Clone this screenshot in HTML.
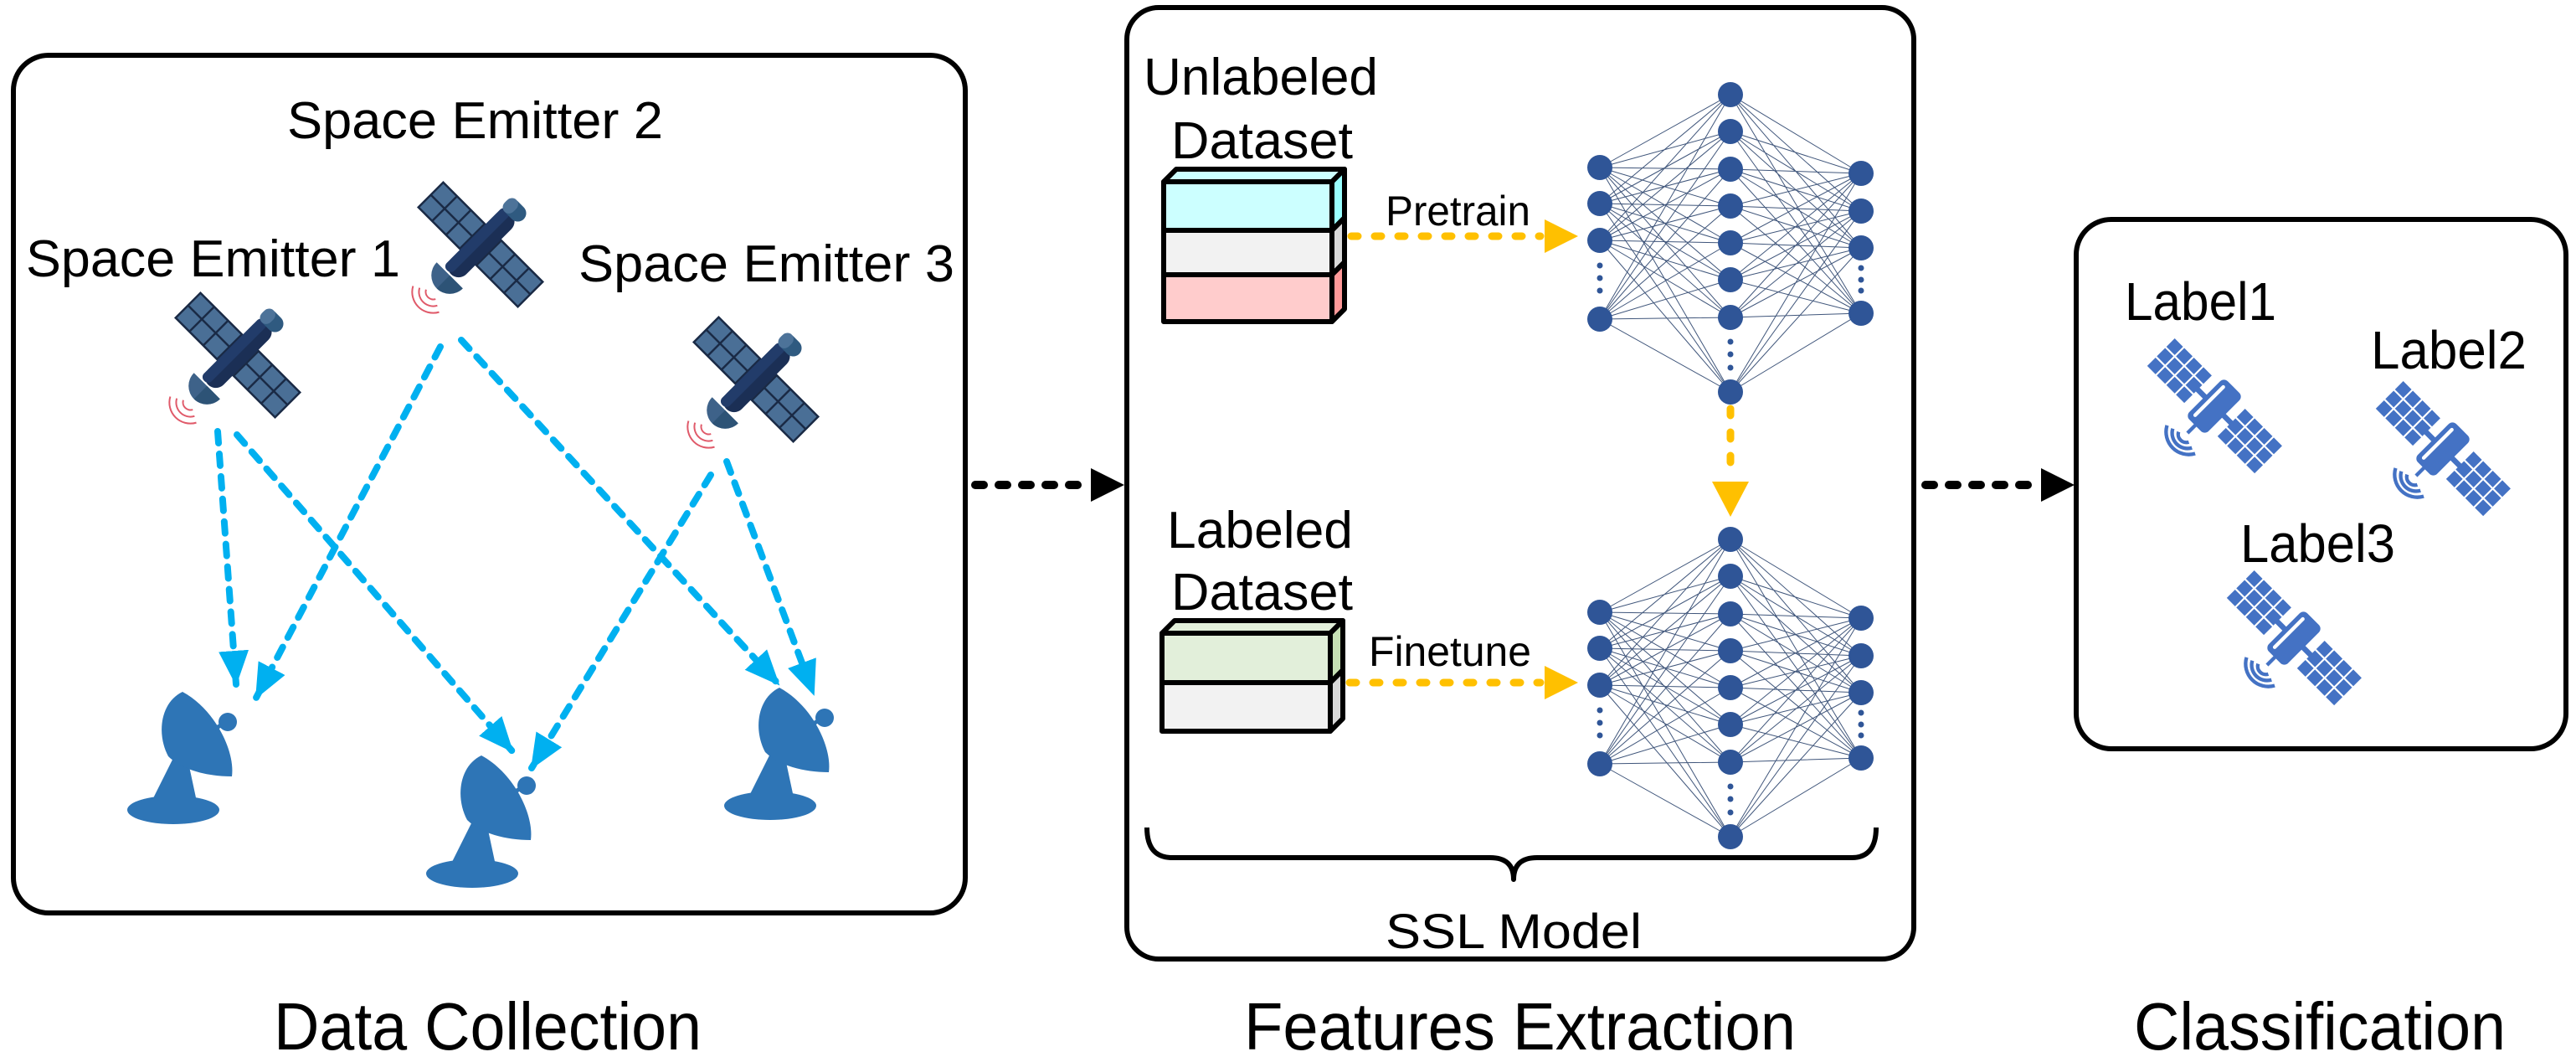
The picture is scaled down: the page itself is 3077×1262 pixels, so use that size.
<!DOCTYPE html>
<html><head><meta charset="utf-8"><style>
html,body{margin:0;padding:0;background:#fff}
svg{display:block}
text{font-family:"Liberation Sans",Arial,sans-serif;fill:#000}
</style></head><body>
<svg width="3077" height="1262" viewBox="0 0 3077 1262" xmlns="http://www.w3.org/2000/svg">
<defs>
<marker id="bh" markerUnits="userSpaceOnUse" markerWidth="46" markerHeight="46" refX="40" refY="18" orient="auto"><path d="M0,0 L42,18 L0,36 Z" fill="#00b0f0"/></marker>
<g id="dsat">
  <g fill="#4a6f96" stroke="#1a2a45" stroke-width="2.5">
    <rect x="-84" y="-21" width="70" height="42"/>
    <rect x="14" y="-21" width="70" height="42"/>
  </g>
  <g stroke="#1a2a45" stroke-width="2.5">
    <line x1="-60.7" y1="-21" x2="-60.7" y2="21"/><line x1="-37.3" y1="-21" x2="-37.3" y2="21"/><line x1="-84" y1="0" x2="-14" y2="0"/>
    <line x1="37.3" y1="-21" x2="37.3" y2="21"/><line x1="60.7" y1="-21" x2="60.7" y2="21"/><line x1="14" y1="0" x2="84" y2="0"/>
  </g>
  <rect x="-13" y="-52" width="26" height="102" rx="13" fill="#1b2f55"/>
  <rect x="-13" y="-52" width="13" height="102" rx="6" fill="#223c6a"/>
  <rect x="-15" y="-68" width="30" height="20" rx="10" fill="#2f5a80"/>
  <rect x="-15" y="-68" width="15" height="20" rx="8" fill="#4d7399"/>
  <path d="M-22,52 A22,22 0 0 0 22,52 Z" fill="#3e6289"/>
  <path d="M0,52 L22,52 A22,22 0 0 1 0,74 Z" fill="#2d5376"/>
  <g fill="none" stroke="#e05a6a" stroke-width="2">
    <path d="M-8,84 A9,9 0 0 0 8,84"/><path d="M-15,88 A17,17 0 0 0 15,88"/><path d="M-22,92 A25,25 0 0 0 22,92"/>
  </g>
</g>
<g id="bsq"><rect width="13" height="13" fill="#4472c4"/></g>
<g id="bsat" fill="#4472c4">
  <g>
    <use href="#bsq" x="-84" y="-22"/><use href="#bsq" x="-69" y="-22"/><use href="#bsq" x="-54" y="-22"/><use href="#bsq" x="-39" y="-22"/>
    <use href="#bsq" x="-84" y="-7"/><use href="#bsq" x="-69" y="-7"/><use href="#bsq" x="-54" y="-7"/><use href="#bsq" x="-39" y="-7"/>
    <use href="#bsq" x="-84" y="8"/><use href="#bsq" x="-69" y="8"/><use href="#bsq" x="-54" y="8"/><use href="#bsq" x="-39" y="8"/>
    <use href="#bsq" x="26" y="-22"/><use href="#bsq" x="41" y="-22"/><use href="#bsq" x="56" y="-22"/><use href="#bsq" x="71" y="-22"/>
    <use href="#bsq" x="26" y="-7"/><use href="#bsq" x="41" y="-7"/><use href="#bsq" x="56" y="-7"/><use href="#bsq" x="71" y="-7"/>
    <use href="#bsq" x="26" y="8"/><use href="#bsq" x="41" y="8"/><use href="#bsq" x="56" y="8"/><use href="#bsq" x="71" y="8"/>
  </g>
  <rect x="-27" y="-3" width="54" height="6"/>
  <rect x="-15" y="-30" width="30" height="60" rx="6"/>
  <rect x="-10" y="-24" width="4" height="48" rx="2" fill="#fff"/>
  <rect x="-2" y="28" width="4" height="14"/>
  <g fill="none" stroke="#4472c4" stroke-width="4">
    <path d="M-8,48 A9,9 0 0 0 8,48"/><path d="M-15,50 A17,17 0 0 0 15,50"/><path d="M-22,52 A25,25 0 0 0 22,52"/>
  </g>
</g>
<g id="dish" fill="#2e75b6">
  <ellipse cx="0" cy="0" rx="55" ry="17"/>
  <path d="M-26,-10 L28,-10 L16,-66 L2,-66 Z"/>
  <path d="M11,-141 C-16,-128 -20,-90 -6,-64 C10,-48 40,-40 70,-40 C74,-70 50,-120 11,-141 Z"/>
  <line x1="48" y1="-96" x2="62" y2="-104" stroke="#2e75b6" stroke-width="5"/>
  <circle cx="65" cy="-105" r="11"/>
</g>
</defs>

<rect x="16" y="66" width="1137" height="1024" rx="42" fill="none" stroke="#000" stroke-width="6"/>
<rect x="1346" y="9" width="940" height="1136" rx="38" fill="none" stroke="#000" stroke-width="6"/>
<rect x="2480" y="262" width="585" height="632" rx="42" fill="none" stroke="#000" stroke-width="6"/>

<line x1="1165" y1="579" x2="1300" y2="579" stroke="#000" stroke-width="10" stroke-linecap="round" stroke-dasharray="10 18"/>
<path d="M1303,559 L1343,579 L1303,599 Z" fill="#000"/>
<line x1="2300" y1="579" x2="2436" y2="579" stroke="#000" stroke-width="10" stroke-linecap="round" stroke-dasharray="10 18"/>
<path d="M2438,559 L2478,579 L2438,599 Z" fill="#000"/>

<text x="343" y="165" font-size="62" textLength="449" lengthAdjust="spacingAndGlyphs">Space Emitter 2</text>
<text x="31" y="330" font-size="62" textLength="447" lengthAdjust="spacingAndGlyphs">Space Emitter 1</text>
<text x="691" y="336" font-size="62" textLength="449" lengthAdjust="spacingAndGlyphs">Space Emitter 3</text>

<use href="#dsat" transform="translate(284,424) rotate(45)"/>
<use href="#dsat" transform="translate(574,292) rotate(45)"/>
<use href="#dsat" transform="translate(903,453) rotate(45)"/>

<g stroke="#00b0f0" stroke-width="8" stroke-linecap="round" stroke-dasharray="14 13" fill="none">
  <line x1="260" y1="515" x2="282" y2="817" marker-end="url(#bh)"/>
  <line x1="283" y1="519" x2="612" y2="897" marker-end="url(#bh)"/>
  <line x1="526" y1="414" x2="306" y2="833" marker-end="url(#bh)"/>
  <line x1="551" y1="406" x2="930" y2="817" marker-end="url(#bh)"/>
  <line x1="849" y1="567" x2="635" y2="917" marker-end="url(#bh)"/>
  <line x1="868" y1="551" x2="972" y2="829" marker-end="url(#bh)"/>
</g>

<use href="#dish" transform="translate(207,967)"/>
<use href="#dish" transform="translate(564,1043)"/>
<use href="#dish" transform="translate(920,962)"/>

<text x="1366" y="113" font-size="62" textLength="280" lengthAdjust="spacingAndGlyphs">Unlabeled</text>
<text x="1399" y="189" font-size="62" textLength="217" lengthAdjust="spacingAndGlyphs">Dataset</text>
<text x="1394" y="654" font-size="62" textLength="222" lengthAdjust="spacingAndGlyphs">Labeled</text>
<text x="1399" y="728" font-size="62" textLength="217" lengthAdjust="spacingAndGlyphs">Dataset</text>

<g stroke="#000" stroke-width="6" stroke-linejoin="round">
  <path d="M1390,217 L1405,202 L1606,202 L1591,217 Z" fill="#ccffff"/>
  <path d="M1591,217 L1606,202 L1606,260 L1591,275 Z" fill="#99ffff"/>
  <path d="M1591,275 L1606,260 L1606,313 L1591,328 Z" fill="#d9d9d9"/>
  <path d="M1591,328 L1606,313 L1606,369 L1591,384 Z" fill="#ff9999"/>
  <rect x="1390" y="217" width="201" height="58" fill="#ccffff"/>
  <rect x="1390" y="275" width="201" height="53" fill="#f2f2f2"/>
  <rect x="1390" y="328" width="201" height="56" fill="#ffcccc"/>

  <path d="M1388,756 L1403,741 L1604,741 L1589,756 Z" fill="#e2efda"/>
  <path d="M1589,756 L1604,741 L1604,800 L1589,815 Z" fill="#c6e0b4"/>
  <path d="M1589,815 L1604,800 L1604,858 L1589,873 Z" fill="#d9d9d9"/>
  <rect x="1388" y="756" width="201" height="59" fill="#e2efda"/>
  <rect x="1388" y="815" width="201" height="58" fill="#f2f2f2"/>
</g>

<text x="1655" y="269" font-size="50" textLength="173" lengthAdjust="spacingAndGlyphs">Pretrain</text>
<text x="1635" y="795" font-size="50" textLength="194" lengthAdjust="spacingAndGlyphs">Finetune</text>

<g stroke="#ffc000" stroke-width="9" stroke-linecap="round" stroke-dasharray="8 20" fill="none">
  <line x1="1614" y1="282" x2="1840" y2="282"/>
  <line x1="1612" y1="815" x2="1840" y2="815"/>
  <line x1="2067" y1="488" x2="2067" y2="570"/>
</g>
<path d="M1845,262 L1885,282 L1845,302 Z" fill="#ffc000"/>
<path d="M1845,795 L1885,815 L1845,835 Z" fill="#ffc000"/>
<path d="M2045,575 L2089,575 L2067,617 Z" fill="#ffc000"/>

<g id="nn">
  <g stroke="#1f3864" stroke-width="1" opacity="0.85">
    <path d="
M1911,200L2067,113M1911,200L2067,157M1911,200L2067,202M1911,200L2067,246M1911,200L2067,290M1911,200L2067,334M1911,200L2067,379M1911,200L2067,468
M1911,243L2067,113M1911,243L2067,157M1911,243L2067,202M1911,243L2067,246M1911,243L2067,290M1911,243L2067,334M1911,243L2067,379M1911,243L2067,468
M1911,287L2067,113M1911,287L2067,157M1911,287L2067,202M1911,287L2067,246M1911,287L2067,290M1911,287L2067,334M1911,287L2067,379M1911,287L2067,468
M1911,381L2067,113M1911,381L2067,157M1911,381L2067,202M1911,381L2067,246M1911,381L2067,290M1911,381L2067,334M1911,381L2067,379M1911,381L2067,468
M2223,207L2067,113M2223,207L2067,157M2223,207L2067,202M2223,207L2067,246M2223,207L2067,290M2223,207L2067,334M2223,207L2067,379M2223,207L2067,468
M2223,252L2067,113M2223,252L2067,157M2223,252L2067,202M2223,252L2067,246M2223,252L2067,290M2223,252L2067,334M2223,252L2067,379M2223,252L2067,468
M2223,296L2067,113M2223,296L2067,157M2223,296L2067,202M2223,296L2067,246M2223,296L2067,290M2223,296L2067,334M2223,296L2067,379M2223,296L2067,468
M2223,374L2067,113M2223,374L2067,157M2223,374L2067,202M2223,374L2067,246M2223,374L2067,290M2223,374L2067,334M2223,374L2067,379M2223,374L2067,468" fill="none"/>
  </g>
  <g fill="#2f5597">
    <circle cx="1911" cy="200" r="15"/><circle cx="1911" cy="243" r="15"/><circle cx="1911" cy="287" r="15"/><circle cx="1911" cy="381" r="15"/>
    <circle cx="1911" cy="317" r="3.5"/><circle cx="1911" cy="332" r="3.5"/><circle cx="1911" cy="347" r="3.5"/>
    <circle cx="2067" cy="113" r="15"/><circle cx="2067" cy="157" r="15"/><circle cx="2067" cy="202" r="15"/><circle cx="2067" cy="246" r="15"/>
    <circle cx="2067" cy="290" r="15"/><circle cx="2067" cy="334" r="15"/><circle cx="2067" cy="379" r="15"/><circle cx="2067" cy="468" r="15"/>
    <circle cx="2067" cy="408" r="3.5"/><circle cx="2067" cy="423" r="3.5"/><circle cx="2067" cy="439" r="3.5"/>
    <circle cx="2223" cy="207" r="15"/><circle cx="2223" cy="252" r="15"/><circle cx="2223" cy="296" r="15"/><circle cx="2223" cy="374" r="15"/>
    <circle cx="2223" cy="320" r="3.5"/><circle cx="2223" cy="334" r="3.5"/><circle cx="2223" cy="347" r="3.5"/>
  </g>
</g>
<use href="#nn" transform="translate(0,531)"/>

<path d="M1370,988 Q1370,1024 1400,1024 L1780,1024 Q1808,1024 1808,1050 Q1808,1024 1836,1024 L2212,1024 Q2241,1024 2241,988" fill="none" stroke="#000" stroke-width="6" stroke-linejoin="round"/>
<text x="1655" y="1132" font-size="58" textLength="306" lengthAdjust="spacingAndGlyphs">SSL Model</text>

<text x="2538" y="382" font-size="64" textLength="181" lengthAdjust="spacingAndGlyphs">Label1</text>
<text x="2832" y="440" font-size="64" textLength="186" lengthAdjust="spacingAndGlyphs">Label2</text>
<text x="2676" y="671" font-size="64" textLength="185" lengthAdjust="spacingAndGlyphs">Label3</text>
<use href="#bsat" transform="translate(2645,485) rotate(45) scale(1.08)"/>
<use href="#bsat" transform="translate(2918,536) rotate(45) scale(1.08)"/>
<use href="#bsat" transform="translate(2740,762) rotate(45) scale(1.08)"/>

<text x="327" y="1253" font-size="80" textLength="511" lengthAdjust="spacingAndGlyphs">Data Collection</text>
<text x="1486" y="1253" font-size="80" textLength="659" lengthAdjust="spacingAndGlyphs">Features Extraction</text>
<text x="2549" y="1253" font-size="80" textLength="444" lengthAdjust="spacingAndGlyphs">Classification</text>
</svg>
</body></html>
